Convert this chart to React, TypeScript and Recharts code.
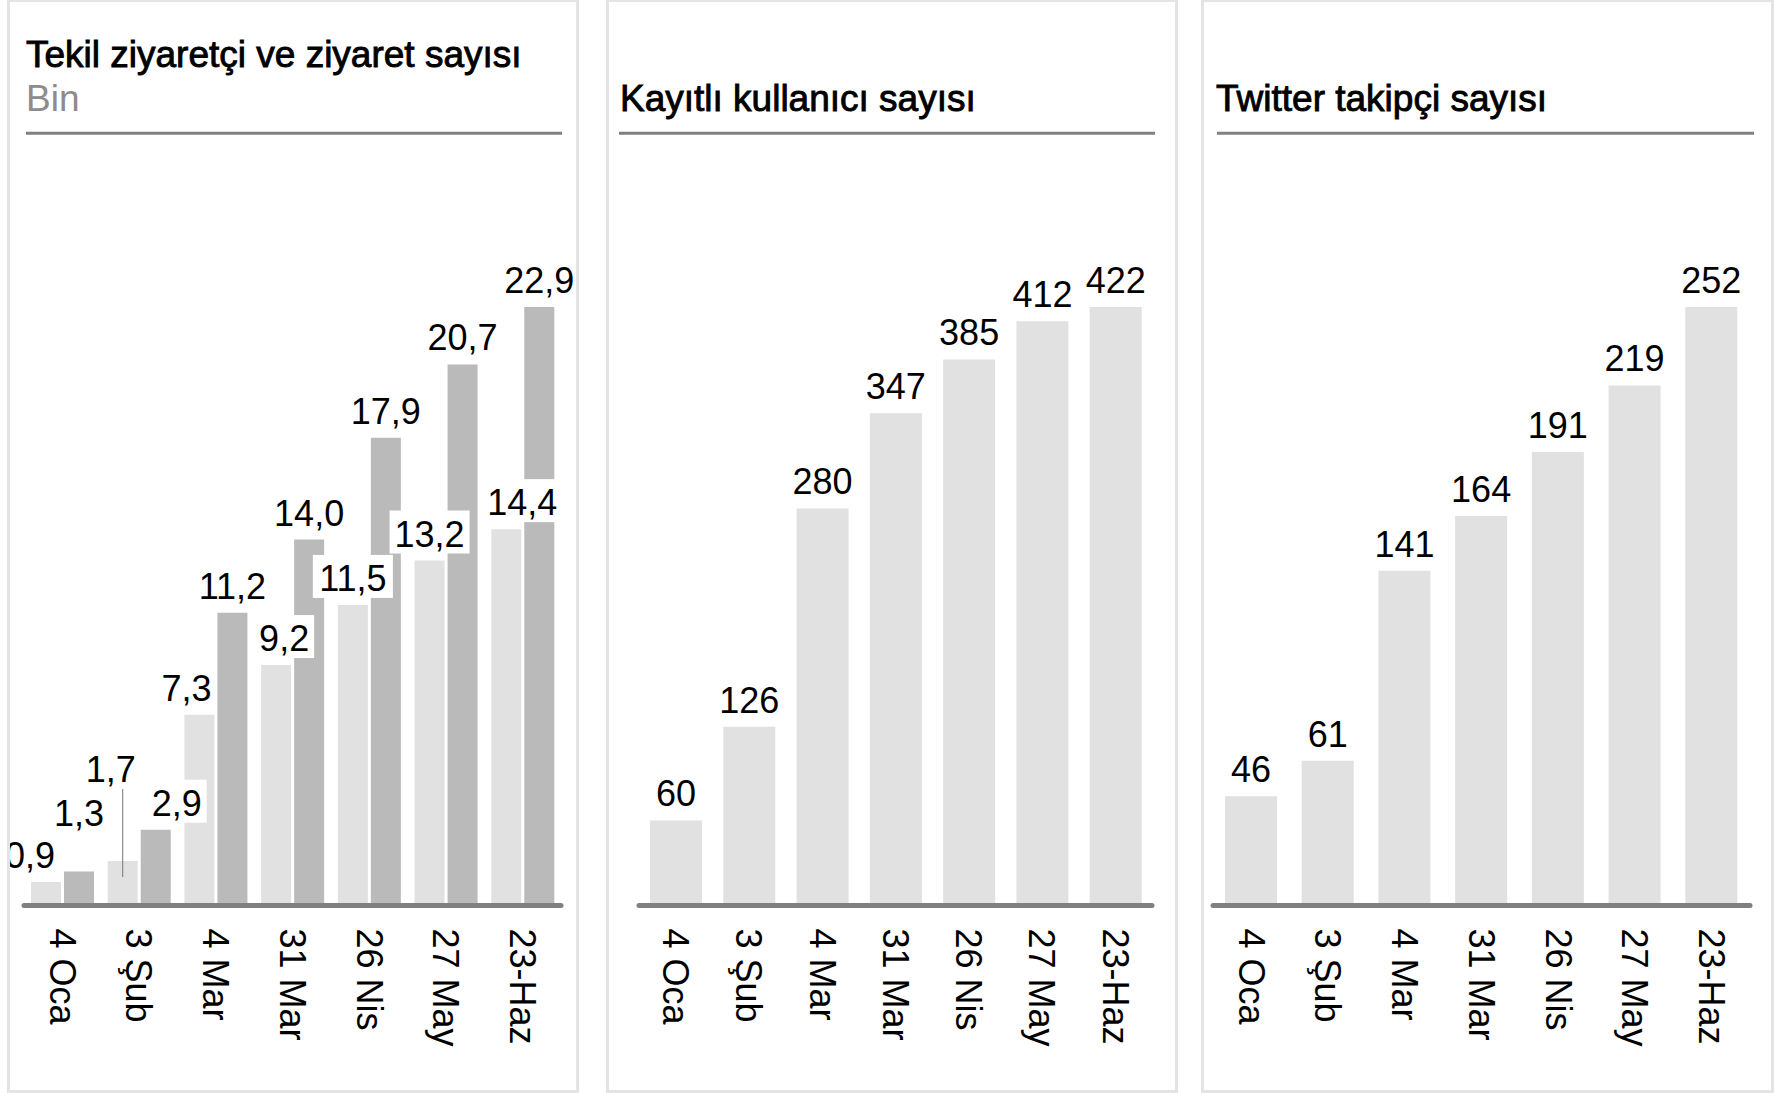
import React from 'react';
import { BarChart, Bar, XAxis, YAxis, LabelList } from 'recharts';

// ---------- data ----------
const categories = ['4 Oca', '3 Şub', '4 Mar', '31 Mar', '26 Nis', '27 May', '23-Haz'];
const uniqueVisitors = [0.9, 1.7, 7.3, 9.2, 11.5, 13.2, 14.4]; // Tekil ziyaretçi (bin)
const visits = [1.3, 2.9, 11.2, 14.0, 17.9, 20.7, 22.9]; // Ziyaret (bin)
const registeredUsers = [60, 126, 280, 347, 385, 412, 422];
const twitterFollowers = [46, 61, 141, 164, 191, 219, 252];

const titles = {
  visits: 'Tekil ziyaretçi ve ziyaret sayısı',
  visitsUnit: 'Bin',
  users: 'Kayıtlı kullanıcı sayısı',
  twitter: 'Twitter takipçi sayısı',
};

// ---------- styling / layout ----------
const FONT = '"Liberation Sans", Arial, Helvetica, sans-serif';
const LIGHT = '#e1e1e1';
const DARK = '#bababa';
const AXIS = '#808080';
const BORDER = '#e4e4e4';
const LABEL_SIZE = 36;
const BAR_GAP = 3;
const LABEL_LIFT = 14;

// manual label nudges (px) for the first panel, to avoid collisions
const lightNudge = [
  { dx: -16, dy: 0 },
  { dx: -12, dy: -65 },
  { dx: -13, dy: 0 },
  { dx: 8, dy: 0 },
  { dx: 0, dy: 0 },
  { dx: 0, dy: 0 },
  { dx: 16, dy: 0 },
];
const darkNudge = [
  { dx: 0, dy: -32 },
  { dx: 21, dy: 0 },
  { dx: 0, dy: 0 },
  { dx: 0, dy: 0 },
  { dx: 0, dy: 0 },
  { dx: 0, dy: 0 },
  { dx: 0, dy: 0 },
];
const leaderIndex = 1; // '1,7' label uses a leader line

const visitsData = categories.map((c, i) => ({ category: c, unique: uniqueVisitors[i], visits: visits[i] }));
const usersData = categories.map((c, i) => ({ category: c, value: registeredUsers[i] }));
const twitterData = categories.map((c, i) => ({ category: c, value: twitterFollowers[i] }));

const fmt1 = (v: number) => v.toFixed(1).replace('.', ',');

const charW = (ch: string) => (ch === ',' || ch === '.' ? 0.278 : 0.556);
const textWidth = (s: string, size: number) => s.split('').reduce((a, c) => a + charW(c), 0) * size;

const BoxedText = ({ cx, baseline, text, box }: { cx: number; baseline: number; text: string; box: boolean }) => {
  const w = textWidth(text, LABEL_SIZE) + 10;
  return (
    <g>
      {box && <rect x={cx - w / 2} y={baseline - 36} width={w} height={43} fill="#ffffff" />}
      <text x={cx} y={baseline} textAnchor="middle" fontFamily={FONT} fontSize={LABEL_SIZE} fill="#000">
        {text}
      </text>
    </g>
  );
};

const getIndex = (props: any, arr: number[]) => {
  if (typeof props.index === 'number') return props.index;
  return arr.indexOf(props.value);
};

const getBox = (props: any) => {
  const vb = props.viewBox && typeof props.viewBox.x === 'number' ? props.viewBox : props;
  return { x: Number(vb.x), y: Number(vb.y), width: Number(vb.width), height: Number(vb.height) };
};

// Draws both series' labels from the dark bar so they sit above all bars
const VisitLabels = (props: any) => {
  const i = getIndex(props, visits);
  if (i < 0) return null;
  const { x, y, width, height } = getBox(props);
  const bottom = y + height;
  const pxPerUnit = height / visits[i];
  const lx = x - BAR_GAP - width;
  const lTop = bottom - uniqueVisitors[i] * pxPerUnit;
  const lCx = lx + width / 2;
  const lBase = lTop - LABEL_LIFT + lightNudge[i].dy;
  const dBase = y - LABEL_LIFT + darkNudge[i].dy;
  return (
    <g>
      {i === leaderIndex && (
        <line x1={lCx} x2={lCx} y1={lBase + 7} y2={lTop + 16} stroke="#777" strokeWidth={1} />
      )}
      <BoxedText cx={lCx + lightNudge[i].dx} baseline={lBase} text={fmt1(uniqueVisitors[i])} box={i !== leaderIndex} />
      <BoxedText cx={x + width / 2 + darkNudge[i].dx} baseline={dBase} text={fmt1(visits[i])} box={true} />
    </g>
  );
};

const makeSimpleLabel = (arr: number[]) => (props: any) => {
  const i = getIndex(props, arr);
  if (i < 0) return null;
  const { x, y, width } = getBox(props);
  return <BoxedText cx={x + width / 2} baseline={y - LABEL_LIFT} text={String(arr[i])} box={false} />;
};

const CategoryTick = (props: any) => {
  const { x, y, payload } = props;
  return (
    <text
      transform={`translate(${x},${y + 23}) rotate(90)`}
      dy="0.35em"
      textAnchor="start"
      fontFamily={FONT}
      fontSize={LABEL_SIZE}
      fill="#000"
    >
      {payload.value}
    </text>
  );
};

const PANEL_H = 1094;
const INNER_H = PANEL_H - 6;
const X_AXIS_H = 180;

const Panel = ({ left, width, children }: { left: number; width: number; children: React.ReactNode }) => (
  <div
    style={{
      position: 'absolute',
      left,
      top: -1,
      width,
      height: PANEL_H,
      boxSizing: 'border-box',
      border: `3px solid ${BORDER}`,
      overflow: 'hidden',
      background: '#fff',
    }}
  >
    {children}
  </div>
);

const Header = ({
  width,
  title,
  titleX,
  titleY,
  sub,
  lineX1,
  lineX2,
}: {
  width: number;
  title: string;
  titleX: number;
  titleY: number;
  sub?: string;
  lineX1: number;
  lineX2: number;
}) => (
  <svg width={width} height={150} style={{ position: 'absolute', left: 0, top: 0 }}>
    <text x={titleX} y={titleY} fontFamily={FONT} fontSize={37} fill="#000" stroke="#000" strokeWidth={0.9}>
      {title}
    </text>
    {sub && (
      <text x={titleX} y={109} fontFamily={FONT} fontSize={37} fill="#8c8c8c">
        {sub}
      </text>
    )}
    <line x1={lineX1} x2={lineX2} y1={131.3} y2={131.3} stroke={AXIS} strokeWidth={3} />
  </svg>
);

const axisLineStyle = { stroke: AXIS, strokeWidth: 5, strokeLinecap: 'round' as const };

export default function App() {
  const w1 = 566;
  const w2 = 566;
  const w3 = 567;
  return (
    <div
      style={{
        position: 'absolute',
        left: 0,
        top: 0,
        width: 1774,
        height: 1093,
        background: '#fff',
        overflow: 'hidden',
      }}
    >
      {/* Panel 1 */}
      <Panel left={7} width={572}>
        <Header width={w1} title={titles.visits} titleX={16} titleY={65} sub={titles.visitsUnit} lineX1={16} lineX2={552} />
        <div style={{ position: 'absolute', left: 0, top: 0 }}>
          <BarChart
            width={w1}
            height={INNER_H}
            data={visitsData}
            margin={{ top: 305, right: 15, bottom: 4.5, left: 14 }}
            barSize={30}
            barGap={BAR_GAP}
          >
            <YAxis hide domain={[0, 'dataMax']} />
            <Bar dataKey="unique" fill={LIGHT} isAnimationActive={false} />
            <Bar dataKey="visits" fill={DARK} isAnimationActive={false}>
              <LabelList dataKey="visits" content={VisitLabels} />
            </Bar>
            <XAxis
              dataKey="category"
              height={X_AXIS_H}
              interval={0}
              tickLine={false}
              tickSize={0}
              tickMargin={0}
              axisLine={axisLineStyle}
              tick={<CategoryTick />}
            />
          </BarChart>
        </div>
      </Panel>

      {/* Panel 2 */}
      <Panel left={606} width={572}>
        <Header width={w2} title={titles.users} titleX={11} titleY={109} lineX1={10} lineX2={546} />
        <div style={{ position: 'absolute', left: 0, top: 0 }}>
          <BarChart
            width={w2}
            height={INNER_H}
            data={usersData}
            margin={{ top: 305, right: 23, bottom: 4.5, left: 30 }}
            barSize={52}
          >
            <YAxis hide domain={[0, 'dataMax']} />
            <Bar dataKey="value" fill={LIGHT} isAnimationActive={false}>
              <LabelList dataKey="value" content={makeSimpleLabel(registeredUsers)} />
            </Bar>
            <XAxis
              dataKey="category"
              height={X_AXIS_H}
              interval={0}
              tickLine={false}
              tickSize={0}
              tickMargin={0}
              axisLine={axisLineStyle}
              tick={<CategoryTick />}
            />
          </BarChart>
        </div>
      </Panel>

      {/* Panel 3 */}
      <Panel left={1201} width={573}>
        <Header width={w3} title={titles.twitter} titleX={12} titleY={109} lineX1={13} lineX2={550} />
        <div style={{ position: 'absolute', left: 0, top: 0 }}>
          <BarChart
            width={w3}
            height={INNER_H}
            data={twitterData}
            margin={{ top: 305, right: 21, bottom: 4.5, left: 9 }}
            barSize={52}
          >
            <YAxis hide domain={[0, 'dataMax']} />
            <Bar dataKey="value" fill={LIGHT} isAnimationActive={false}>
              <LabelList dataKey="value" content={makeSimpleLabel(twitterFollowers)} />
            </Bar>
            <XAxis
              dataKey="category"
              height={X_AXIS_H}
              interval={0}
              tickLine={false}
              tickSize={0}
              tickMargin={0}
              axisLine={axisLineStyle}
              tick={<CategoryTick />}
            />
          </BarChart>
        </div>
      </Panel>
    </div>
  );
}
